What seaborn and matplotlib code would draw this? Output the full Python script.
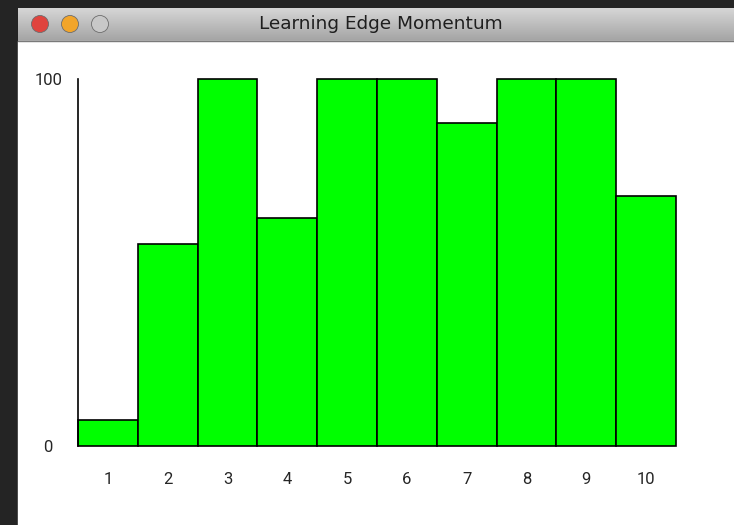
import numpy as np
import pandas as pd
import matplotlib.pyplot as plt
import matplotlib.patches as mpatches
import seaborn as sns

# data
steps = ["1", "2", "3", "4", "5", "6", "7", "8", "9", "10"]
momentum = [7, 55, 100, 62, 100, 100, 88, 100, 100, 68]
y_ticks = [0, 100]
window_title = "Learning Edge Momentum"

df = pd.DataFrame({"step": steps, "momentum": momentum})

sns.set_style("white")
plt.rcParams['font.family'] = ['Roboto', 'DejaVu Sans']

W, H = 734, 525
fig = plt.figure(figsize=(W / 100, H / 100), dpi=100)
fig.patch.set_facecolor("#242424")

# window chrome, drawn in pixel coords on a background axes
bg = fig.add_axes([0, 0, 1, 1], zorder=0)
bg.set_xlim(0, W)
bg.set_ylim(H, 0)
bg.axis("off")
grad = np.linspace(0, 1, 64).reshape(-1, 1)
bg.imshow(grad, cmap=sns.blend_palette(["#d6d6d6", "#a4a4a4"], as_cmap=True),
          extent=(18, W, 41, 8), aspect="auto", zorder=1)
bg.add_patch(mpatches.Rectangle((18, 41), W - 18, H - 41, color="white", zorder=1))
bg.plot([18, W], [41, 41], color="#7a7a7a", lw=1, zorder=2)
for cx, col in [(40, "#e0443e"), (70, "#f2a52a"), (100, "#c8c8c8")]:
    bg.add_patch(mpatches.Circle((cx, 24), 8.5, facecolor=col,
                                 edgecolor="#6d6d6d", lw=0.6, zorder=3))
bg.text(381, 24, window_title, ha="center", va="center",
        fontsize=13.3, color="#1e1e1e", zorder=3, family="DejaVu Sans")

# chart
ax = fig.add_axes([78 / W, (H - 446) / H, (676 - 78) / W, (446 - 79) / H], zorder=2)
ax.patch.set_alpha(0)
sns.barplot(data=df, x="step", y="momentum", color="#00ff00", saturation=1,
            width=1, edgecolor="black", linewidth=1.2, ax=ax)
for p in ax.patches:
    p.set_clip_on(False)
ax.set_xlim(-0.5, len(steps) - 0.5)
ax.set_ylim(0, 100)
ax.set_yticks(y_ticks)
ax.set_xlabel("")
ax.set_ylabel("")
sns.despine(ax=ax, top=True, right=True, bottom=True)
ax.spines["left"].set_color("black")
ax.spines["left"].set_linewidth(1.2)
ax.tick_params(axis="y", length=0, pad=21.5, labelsize=12)
ax.tick_params(axis="x", length=0, pad=19, labelsize=12)
for lbl in ax.get_yticklabels():
    lbl.set_horizontalalignment("center")

fig.savefig("out.png", dpi=100, facecolor=fig.get_facecolor())
